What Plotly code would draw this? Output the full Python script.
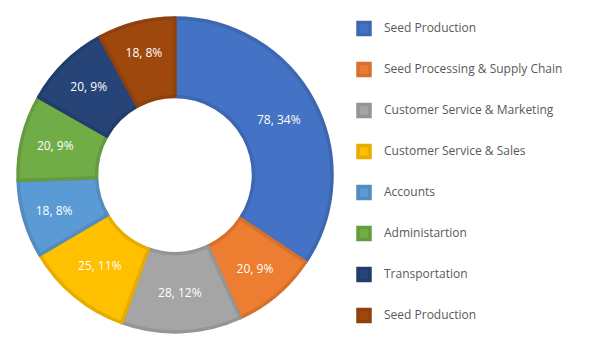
import plotly.graph_objects as go

categories = ["Seed Production", "Seed Processing & Supply Chain", "Customer Service & Marketing",
              "Customer Service & Sales", "Accounts", "Administartion", "Transportation", "Seed Production"]
values = [78, 20, 28, 25, 18, 20, 20, 18]
colors = ["#4472C4", "#ED7D31", "#A5A5A5", "#FFC000", "#5B9BD5", "#70AD47", "#264478", "#9E480E"]
line_colors = ["#3E67B1", "#D5712C", "#959595", "#E6AD00", "#528CC0", "#659C40", "#223D6C", "#8E410D"]

FONT = "Open Sans"
W, H = 605, 344

# unique legend labels (the chart repeats "Seed Production"); pad lines to set row spacing
labels = []
for i, c in enumerate(categories):
    suffix = "\u200b" * i
    labels.append(" <br><span style='font-size:12px'>" + c + suffix + "</span><br> ")

cx, cy, r = 175, 175, 157
fig = go.Figure(go.Pie(
    labels=labels,
    values=values,
    sort=False,
    direction="clockwise",
    rotation=0,
    hole=0.5,
    marker=dict(colors=colors, line=dict(color=line_colors, width=3.5)),
    texttemplate="%{value}, %{percent:.0%}",
    textposition="inside",
    insidetextorientation="horizontal",
    textfont=dict(family=FONT, size=12, color="white"),
    domain=dict(x=[(cx - r) / W, (cx + r) / W], y=[(H - cy - r) / H, (H - cy + r) / H]),
))

fig.update_layout(
    width=W, height=H,
    margin=dict(l=0, r=0, t=0, b=0),
    paper_bgcolor="white",
    plot_bgcolor="white",
    showlegend=True,
    legend=dict(
        x=344 / W, y=1 - 3 / H, xanchor="left", yanchor="top",
        font=dict(family=FONT, size=9.74, color="#595959"),
        bgcolor="rgba(0,0,0,0)",
    ),
)

fig.write_html("out.html")
